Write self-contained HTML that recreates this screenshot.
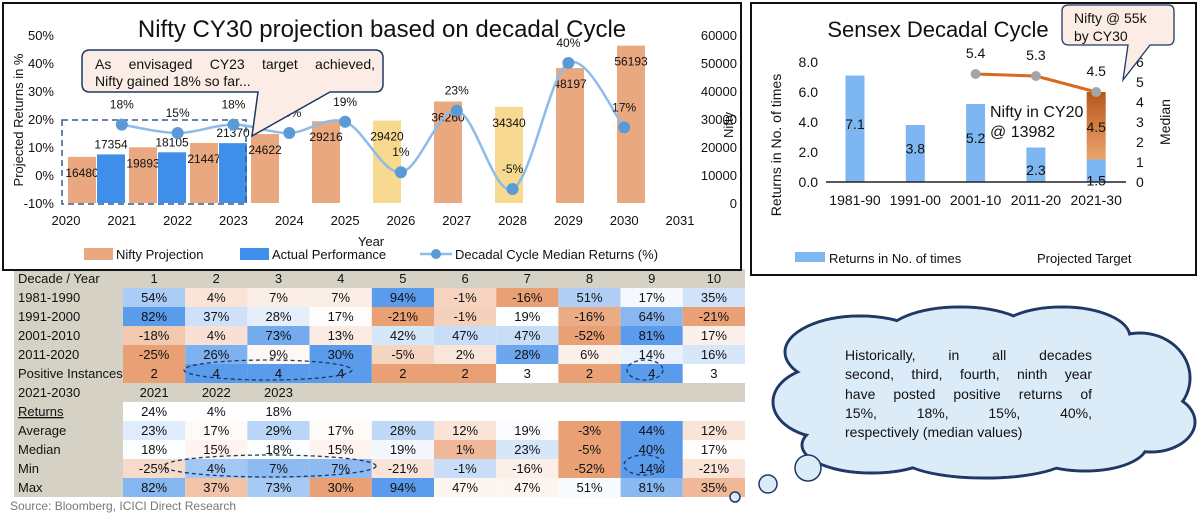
<!DOCTYPE html>
<html><head><meta charset="utf-8">
<style>
html,body{margin:0;padding:0;background:#fff;}
body{width:1200px;height:515px;overflow:hidden;position:relative;font-family:"Liberation Sans",sans-serif;}
svg{position:absolute;left:0;top:0;}
text{font-family:"Liberation Sans",sans-serif;fill:#111;}
.jt{position:absolute;font-size:14px;color:#111;text-align:justify;text-align-last:justify;}
.jt div{text-align:justify;text-align-last:justify;white-space:nowrap;}
</style></head>
<body>
<svg id="s" width="1200" height="515" viewBox="0 0 1200 515" xmlns="http://www.w3.org/2000/svg">
<defs>
<linearGradient id="og" x1="0" y1="0" x2="0" y2="1"><stop offset="0" stop-color="#B8561A"/><stop offset="1" stop-color="#EBA56F"/></linearGradient>
</defs>
<g id="table"></g>
<g id="left"></g>
<g id="right"></g>
<g id="cloud"></g>
<text x="10" y="510" font-size="12" style="fill:#777">Source: Bloomberg, ICICI Direct Research</text>
</svg>
<div class="jt" style="left:95px;top:56px;width:280px;line-height:17px;">
<div style="white-space:normal">As envisaged CY23 target achieved,</div>
<div style="text-align-last:left">Nifty gained 18% so far...</div>
</div>
<div class="jt" style="left:845px;top:346px;width:247px;line-height:19.3px;">
<div style="white-space:normal">Historically, in all decades</div>
<div style="white-space:normal">second, third, fourth, ninth year</div>
<div style="white-space:normal">have posted positive returns of</div>
<div style="white-space:normal">15%, 18%, 15%, 40%,</div>
<div style="text-align-last:left">respectively (median values)</div>
</div>
<script>
// ---- left chart data ----
const projValues = [16480,19893,21447,24622,29216,29420,36260,34340,48197,56193];
const projColors = ['p','p','p','p','p','y','p','y','p','p'];
const actualValues = [17354,18105,21370];
const medianYears = [2021,2022,2023,2024,2025,2026,2027,2028,2029,2030];
const medianReturns = [18,15,18,15,19,1,23,-5,40,17];
const xYears = [2020,2021,2022,2023,2024,2025,2026,2027,2028,2029,2030,2031];
const leftTicks = [50,40,30,20,10,0,-10];
const rightTicks = [60000,50000,40000,30000,20000,10000,0];
// ---- right chart data ----
const decades = ['1981-90','1991-00','2001-10','2011-20','2021-30'];
const decadeReturns = [7.1,3.8,5.2,2.3,1.5];
const projectedTarget = [null,null,null,null,4.5];
const medianLine = [null,null,5.4,5.3,4.5];
const rLeftTicks = [0,2,4,6,8];
const rRightTicks = [0,1,2,3,4,5,6];
// ---- table data ----
const tableRows = [
 ['1981-1990',[54,4,7,7,94,-1,-16,51,17,35],'%'],
 ['1991-2000',[82,37,28,17,-21,-1,19,-16,64,-21],'%'],
 ['2001-2010',[-18,4,73,13,42,47,47,-52,81,17],'%'],
 ['2011-2020',[-25,26,9,30,-5,2,28,6,14,16],'%'],
 ['Positive Instances',[2,4,4,4,2,2,3,2,4,3],''],
];
const returns2021 = [24,4,18];
const statRows = [
 ['Average',[23,17,29,17,28,12,19,-3,44,12]],
 ['Median',[18,15,18,15,19,1,23,-5,40,17]],
 ['Min',[-25,4,7,7,-21,-1,-16,-52,14,-21]],
 ['Max',[82,37,73,30,94,47,47,51,81,35]],
];

const NS='http://www.w3.org/2000/svg';
function mk(parent,tag,attrs,txt){const e=document.createElementNS(NS,tag);for(const k in attrs)e.setAttribute(k,attrs[k]);if(txt!==undefined)e.textContent=txt;parent.appendChild(e);return e;}

// ===== LEFT CHART =====
const L=document.getElementById('left');
const yL=v=>175-v*2.8;
const yR=v=>203-v*0.0028;
const xYear=y=>66+(y-2020)*55.82;
const grpC=i=>97+61*i;
let fr=mk(L,'rect',{x:3,y:3,width:738,height:267,fill:'none',stroke:'#111','stroke-width':2});


projValues.forEach((v,i)=>{
  const cx=grpC(i);
  let r=mk(L,'rect',{x:cx-29,y:yR(v),width:28,height:203-yR(v),fill:projColors[i]==='y'?'#F7D98F':'#EAA880'});
  
  
  let t=mk(L,'text',{x:cx-15,y:yR(v)+20,'font-size':12,'text-anchor':'middle'},String(v));
  
  
});
actualValues.forEach((v,i)=>{
  const cx=grpC(i);
  let r=mk(L,'rect',{x:cx,y:yR(v),width:28,height:203-yR(v),fill:'#3F8EEA'});
  
  
  let t=mk(L,'text',{x:cx+14,y:yR(v)-6,'font-size':12,'text-anchor':'middle'},String(v));
  
  
});
let dr=mk(L,'rect',{x:62,y:120,width:184,height:84,fill:'none',stroke:'#3A5A8C','stroke-width':1.5,'stroke-dasharray':'6,4'});


const pts=medianYears.map((y,i)=>[xYear(y),yL(medianReturns[i])]);
let d='M'+pts[0][0]+','+pts[0][1];
for(let i=0;i<pts.length-1;i++){const p0=pts[i-1]||pts[i],p1=pts[i],p2=pts[i+1],p3=pts[i+2]||p2;
 d+=' C'+(p1[0]+(p2[0]-p0[0])/6)+','+(p1[1]+(p2[1]-p0[1])/6)+' '+(p2[0]-(p3[0]-p1[0])/6)+','+(p2[1]-(p3[1]-p1[1])/6)+' '+p2[0]+','+p2[1];}
let ln=mk(L,'path',{d:d,fill:'none',stroke:'#8DBBEA','stroke-width':2.5});


pts.forEach((p,i)=>{
  let c=mk(L,'circle',{cx:p[0],cy:p[1],r:6,fill:'#5B9BD5'});
  
  
  let t=mk(L,'text',{x:p[0],y:p[1]-16,'font-size':12,'text-anchor':'middle'},medianReturns[i]+'%');
  
  
});
leftTicks.forEach(v=>{let t=mk(L,'text',{x:54,y:yL(v)+5,'font-size':13,'text-anchor':'end'},v+'%');
  
  });
rightTicks.forEach(v=>{let t=mk(L,'text',{x:737,y:yR(v)+5,'font-size':13,'text-anchor':'end'},String(v));
  
  });
xYears.forEach(y=>{let t=mk(L,'text',{x:xYear(y),y:225,'font-size':13,'text-anchor':'middle'},String(y));
  
  });
let tt=mk(L,'text',{x:382,y:37,'font-size':24,'text-anchor':'middle'},'Nifty CY30 projection based on decadal Cycle');


let ya=mk(L,'text',{x:0,y:0,'font-size':13,'text-anchor':'middle',transform:'translate(23,120) rotate(-90)'},'Projected Returns in %');


let ya2=mk(L,'text',{x:0,y:0,'font-size':13,'text-anchor':'middle',transform:'translate(733,125) rotate(-90)'},'Nifty');


let xa=mk(L,'text',{x:371,y:246,'font-size':13,'text-anchor':'middle'},'Year');


let co=mk(L,'path',{d:'M90,50 H375 Q383,50 383,58 V84 Q383,92 375,92 H330 L252,136 L258,92 H90 Q82,92 82,84 V58 Q82,50 90,50 Z',fill:'#FBEDE5',stroke:'#1F3864','stroke-width':1.5});


let lg=mk(L,'g',{});


let l1=mk(lg,'rect',{x:84,y:248,width:29,height:12,fill:'#EAA880'});


mk(lg,'text',{x:116,y:259,'font-size':13},'Nifty Projection');
let l2=mk(lg,'rect',{x:240,y:248,width:29,height:12,fill:'#3F8EEA'});


mk(lg,'text',{x:272,y:259,'font-size':13},'Actual Performance');
let l3=mk(lg,'line',{x1:420,y1:254,x2:452,y2:254,stroke:'#8DBBEA','stroke-width':2.5});


mk(lg,'circle',{cx:436,cy:254,r:5,fill:'#5B9BD5'});
mk(lg,'text',{x:455,y:259,'font-size':13},'Decadal Cycle Median Returns (%)');

// ===== RIGHT CHART =====
const R=document.getElementById('right');
const ry=v=>182-v*15;
const ry2=v=>182-v*20;
const rx=i=>855+60.3*i;
let rf=mk(R,'rect',{x:751,y:3,width:445,height:272,fill:'none',stroke:'#111','stroke-width':2});


let rt=mk(R,'text',{x:938,y:37,'font-size':22,'text-anchor':'middle'},'Sensex Decadal Cycle');


decadeReturns.forEach((v,i)=>{
  let b=mk(R,'rect',{x:rx(i)-9.5,y:ry(v),width:19,height:ry(0)-ry(v),fill:'#7DB6F0'});
  
  
  if(projectedTarget[i]!=null){
    const top=v+projectedTarget[i];
    let pb=mk(R,'rect',{x:rx(i)-9.5,y:ry(top),width:19,height:ry(v)-ry(top),fill:'url(#og)'});
    
    
    let pt=mk(R,'text',{x:rx(i),y:(ry(top)+ry(v))/2+6,'font-size':14,'text-anchor':'middle'},projectedTarget[i].toFixed(1));
    
    
  }
  let t=mk(R,'text',{x:rx(i),y:Math.max(ry(v/2),ry(v)+16)+(i>=3?10:0),'font-size':14,'text-anchor':'middle'},v.toFixed(1));
  
  
  let c=mk(R,'text',{x:rx(i),y:205,'font-size':14,'text-anchor':'middle'},decades[i]);
  
  
});
let ax=mk(R,'line',{x1:826,y1:182,x2:1126,y2:182,stroke:'#222','stroke-width':1.5});


const mp=[];medianLine.forEach((v,i)=>{if(v!=null)mp.push([rx(i),ry2(v),v]);});
let ml=mk(R,'polyline',{points:mp.map(p=>p[0]+','+p[1]).join(' '),fill:'none',stroke:'#D8691F','stroke-width':3});


mp.forEach(p=>{
  let c=mk(R,'circle',{cx:p[0],cy:p[1],r:5,fill:'#A5A5A5'});
  
  
  let t=mk(R,'text',{x:p[0],y:p[1]-16,'font-size':14,'text-anchor':'middle'},p[2].toFixed(1));
  
  
});
rLeftTicks.forEach(v=>{let t=mk(R,'text',{x:818,y:ry(v)+5,'font-size':14,'text-anchor':'end'},v.toFixed(1));
  
  });
rRightTicks.forEach(v=>{let t=mk(R,'text',{x:1136,y:ry2(v)+5,'font-size':14},String(v));
  
  });
let ry1t=mk(R,'text',{x:0,y:0,'font-size':14,'text-anchor':'middle',transform:'translate(781,145) rotate(-90)'},'Returns in No. of times');


let ry2t=mk(R,'text',{x:0,y:0,'font-size':14,'text-anchor':'middle',transform:'translate(1170,122) rotate(-90)'},'Median');


let n1=mk(R,'text',{x:990,y:117,'font-size':16},'Nifty in CY20');


mk(R,'text',{x:990,y:137,'font-size':16},'@ 13982');
let rc=mk(R,'path',{d:'M1069,5 H1168 Q1174,5 1174,11 V38 Q1174,45 1168,45 H1150 L1123,80 L1128,45 H1069 Q1062,45 1062,38 V11 Q1062,5 1069,5 Z',fill:'#FBEDE5',stroke:'#1F3864','stroke-width':1.3});


mk(R,'text',{x:1074,y:23,'font-size':14},'Nifty @ 55k');
mk(R,'text',{x:1074,y:41,'font-size':14},'by CY30');
let rl=mk(R,'rect',{x:795,y:252,width:30,height:10,fill:'#7DB6F0'});


mk(R,'text',{x:829,y:263,'font-size':13},'Returns in No. of times');
let rl2=mk(R,'text',{x:1037,y:263,'font-size':13},'Projected Target');



// ===== TABLE =====
const T=document.getElementById('table');
const TX=14,LW=109,CW=62.2,RH=19,TY=269;
const GREY='#D5D2C5';
function lerp(a,b,t){return a.map((x,i)=>Math.round(x+(b[i]-x)*t));}
function heat(vals,v){const s=[...vals].sort((a,b)=>a-b);const mn=s[0],mx=s[s.length-1];const md=(s[4]+s[5])/2;
 const O=[233,160,116],W=[255,255,255],B=[90,155,235];let c;
 if(v<=md)c=lerp(W,O,md===mn?0:(md-v)/(md-mn));else c=lerp(W,B,mx===md?0:(v-md)/(mx-md));
 return 'rgb('+c.join(',')+')';}
function cellText(x,y,s,anchor){let t=mk(T,'text',{x:x,y:y+14,'font-size':13,'text-anchor':anchor||'middle'},s);return t;}
function rowLabel(r,s,under){
 mk(T,'rect',{x:TX,y:TY+RH*r,width:LW,height:RH,fill:GREY});
 let t=cellText(TX+4,TY+RH*r,s,'start');
 if(under)t.setAttribute('text-decoration','underline');
 
 }
let hb=mk(T,'rect',{x:TX,y:TY,width:LW+CW*10,height:RH,fill:GREY});


cellText(TX+4,TY,'Decade / Year','start');
for(let j=0;j<10;j++)cellText(TX+LW+CW*j+CW/2,TY,String(j+1));
function dataRow(r,label,vals,suf,under){
 rowLabel(r,label,under);
 vals.forEach((v,j)=>{
  let c=mk(T,'rect',{x:TX+LW+CW*j,y:TY+RH*r,width:CW,height:RH,fill:heat(vals,v)});
  
  
  cellText(TX+LW+CW*j+CW/2,TY+RH*r,v+suf);
 });}
tableRows.forEach((row,i)=>dataRow(i+1,row[0],row[1],row[2]));
let gb=mk(T,'rect',{x:TX,y:TY+RH*6,width:LW+CW*10,height:RH,fill:GREY});


cellText(TX+4,TY+RH*6,'2021-2030','start');
['2021','2022','2023'].forEach((s,j)=>cellText(TX+LW+CW*j+CW/2,TY+RH*6,s));
rowLabel(7,'Returns',true);
returns2021.forEach((v,j)=>cellText(TX+LW+CW*j+CW/2,TY+RH*7,v+'%'));
statRows.forEach((row,i)=>dataRow(8+i,row[0],row[1],'%'));
[[268,370,84,10],[645,370,18,10],[270,466,106,11],[644,465,20,10]].forEach(e=>{
 let el=mk(T,'ellipse',{cx:e[0],cy:e[1],rx:e[2],ry:e[3],fill:'none',stroke:'#1F3864','stroke-width':1.3,'stroke-dasharray':'4,3'});
 
 });

// ===== CLOUD =====
const C=document.getElementById('cloud');
const blobs=[[983,398,170,58],[860,352,75,36],[960,337,75,30],[1062,337,68,30],[1140,378,50,45],[1150,422,45,30],[828,402,55,36],[872,445,70,28],[985,456,85,22],[1085,445,62,26]];
blobs.forEach(b=>mk(C,'ellipse',{cx:b[0],cy:b[1],rx:b[2],ry:b[3],fill:'#DCEBF8',stroke:'#1F3864','stroke-width':3}));
blobs.forEach(b=>mk(C,'ellipse',{cx:b[0],cy:b[1],rx:b[2]-1.5,ry:b[3]-1.5,fill:'#DCEBF8'}));
[[808,468,13],[768,484,9],[735,497,5]].forEach(c=>mk(C,'circle',{cx:c[0],cy:c[1],r:c[2],fill:'#DCEBF8',stroke:'#1F3864','stroke-width':1.5}));
</script>
</body></html>
